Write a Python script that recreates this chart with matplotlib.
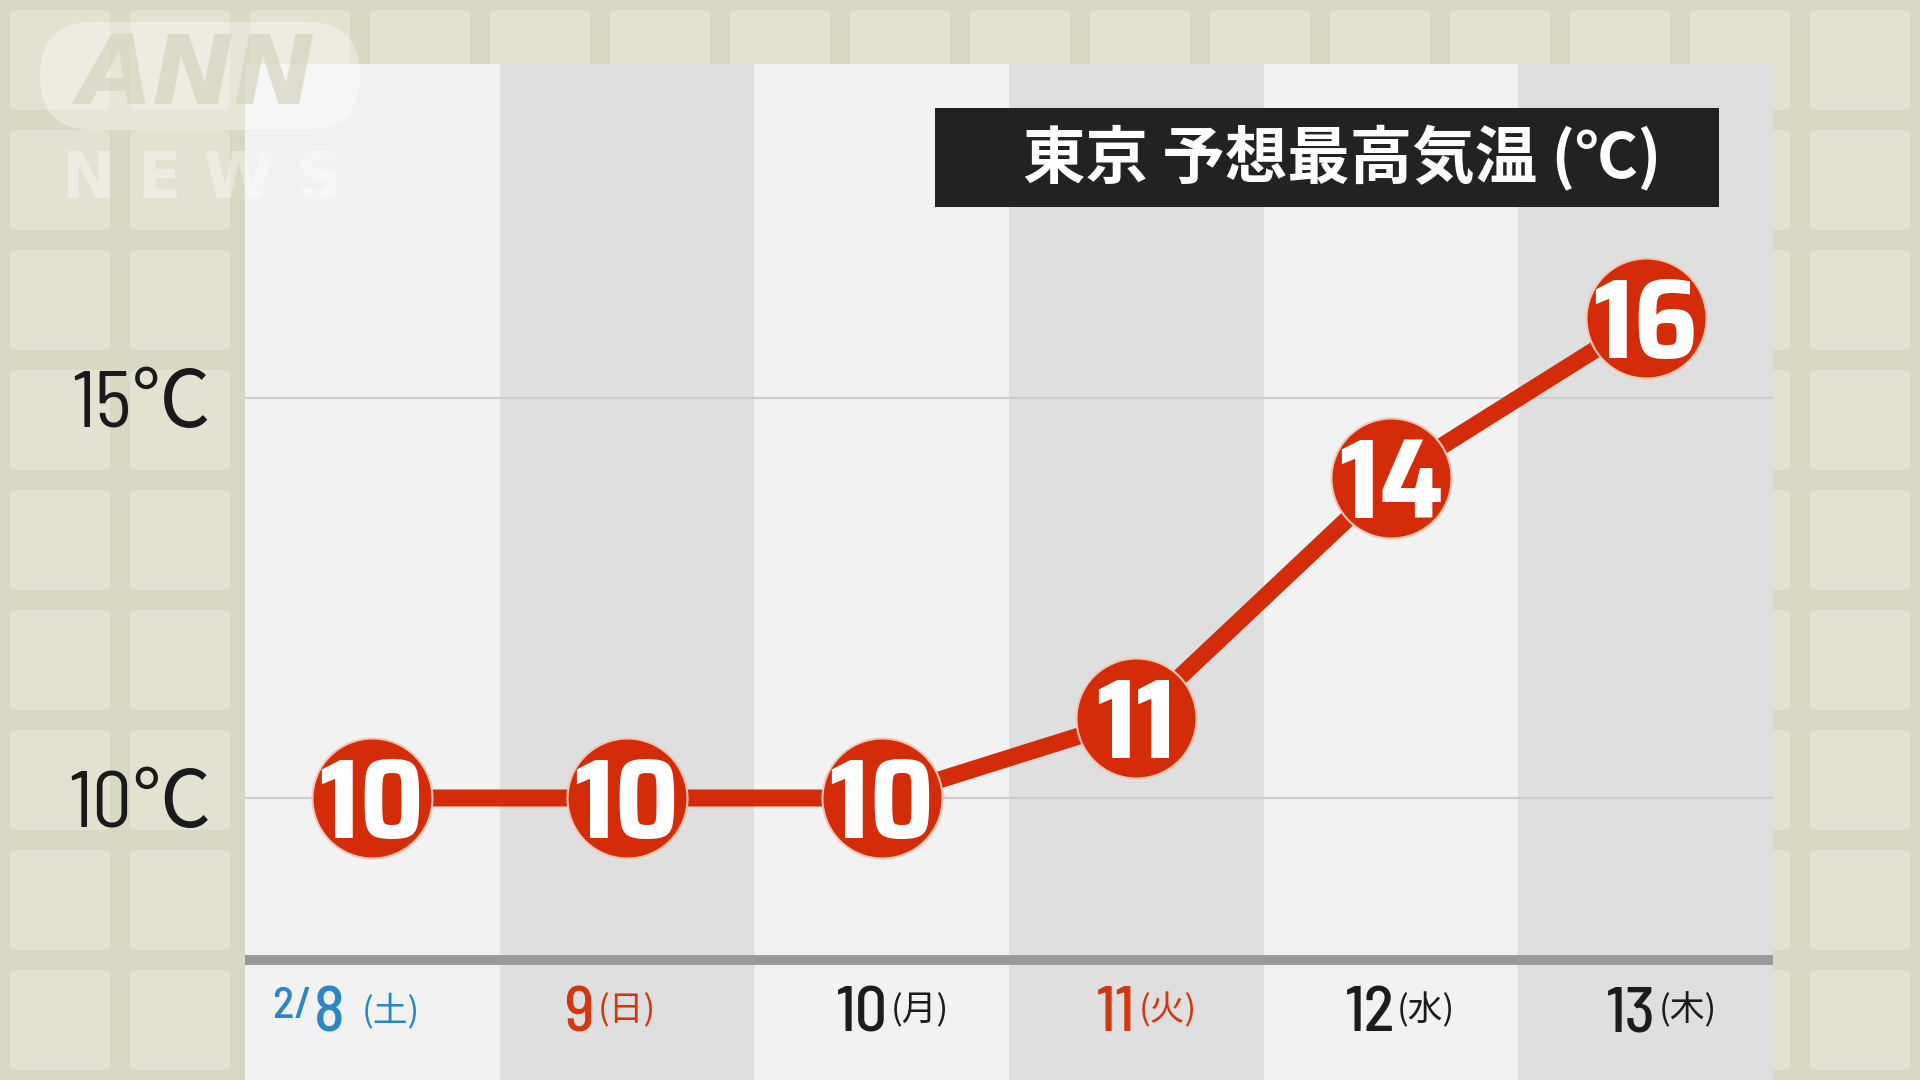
import matplotlib.pyplot as plt
from matplotlib.patches import FancyBboxPatch, Rectangle

# data
days = ["2/8", "9", "10", "11", "12", "13"]
weekdays = ["土", "日", "月", "火", "水", "木"]
day_colors = ["#2a86c6", "#d2380f", "#1c1c1c", "#d2380f", "#1c1c1c", "#1c1c1c"]
temps = [10, 10, 10, 11, 14, 16]
y_ticks = [10, 15]
title = "東京 予想最高気温 (℃)"

RED = "#d42c08"
JP_FONT = ["Noto Sans CJK JP", "DejaVu Sans"]
BADGE_FONT = ["Saira SemiCondensed", "Saira Condensed", "Barlow Semi Condensed", "DejaVu Sans"]
AXIS_FONT = ["Barlow Semi Condensed", "Barlow Condensed", "Roboto Condensed"] + JP_FONT
plt.rcParams["font.family"] = JP_FONT

W, H = 1920, 1080
PT = 72 / 100  # px -> pt at dpi 100

fig = plt.figure(figsize=(19.2, 10.8), dpi=100)
fig.patch.set_facecolor("#d9d9c3")

# tiled background
bg = fig.add_axes([0, 0, 1, 1])
bg.set_xlim(0, W)
bg.set_ylim(H, 0)
bg.axis("off")
for cx in range(10, W, 120):
    for cy in range(10, H, 120):
        bg.add_patch(FancyBboxPatch((cx + 6, cy + 6), 88, 88, boxstyle="round,pad=6",
                                    fc="#e2e2d1", ec="none"))

# chart panel
left, right, top = 245, 1773, 64
y10_px, y15_px = 798, 398
deg_px = (y10_px - y15_px) / 5


def py(p):
    # pixel row -> temperature units
    return 10 - (p - y10_px) / deg_px


ax = fig.add_axes([left / W, 0, (right - left) / W, (H - top) / H])
ax.set_xlim(-0.5, len(days) - 0.5)
ax.set_ylim(py(H), py(top))
ax.axis("off")

x = list(range(len(days)))
for i in x:
    ax.axvspan(i - 0.5, i + 0.5, color="#f2f2f2" if i % 2 == 0 else "#dfdfdf", zorder=0, lw=0)
for t in y_ticks:
    ax.axhline(t, color="#cdcdcd", lw=1.6, zorder=1)
    ax.annotate(f"{t}℃", xy=(-0.5, t), xytext=(-34 * PT, -0.36 * 57), textcoords="offset points",
                ha="right", va="baseline", fontsize=57, color="#1a1a1a",
                family=AXIS_FONT, annotation_clip=False)

ax.axhline(py(960), color="#999999", lw=10 * PT, zorder=1)

ax.plot(x, temps, color=RED, lw=17 * PT, zorder=3)
ax.scatter(x, temps, s=(120 * PT) ** 2, c=RED, edgecolors="#f5c6b4", linewidths=1.5, zorder=4)
for i, t in zip(x, temps):
    ax.annotate(str(t), xy=(i, t), xytext=(0, -0.35 * 82), textcoords="offset points",
                ha="center", va="baseline", fontsize=82, fontweight="bold",
                color="white", family=BADGE_FONT, zorder=5)

# x labels: date number + (weekday)
num_dx = [-28, -33, 6, -1, 4, 10]
wd_dx = [-11, -29, 9, 2, 6, 13]
for i, (d, wd, c) in enumerate(zip(days, weekdays, day_colors)):
    num = d.split("/")[-1]
    ax.annotate(num, xy=(i, py(1031)), xytext=(num_dx[i] * PT, 0), textcoords="offset points",
                ha="right", va="baseline", fontsize=46, color=c, weight=500, family=AXIS_FONT)
    ax.annotate(f"({wd})", xy=(i, py(1011)), xytext=(wd_dx[i] * PT, 0), textcoords="offset points",
                ha="left", va="center", fontsize=25, color=c)
    if "/" in d:
        ax.annotate(d.split("/")[0] + "/", xy=(i, py(1018)), xytext=((num_dx[i] - 32) * PT, 0),
                    textcoords="offset points", ha="right", va="baseline", fontsize=32,
                    color=c, weight=500, family=AXIS_FONT)

# overlay: title box and logo
ov = fig.add_axes([0, 0, 1, 1])
ov.set_xlim(0, W)
ov.set_ylim(H, 0)
ov.axis("off")
ov.patch.set_alpha(0)
ov.add_patch(Rectangle((935, 108), 784, 99, fc="#222222", ec="none"))
ov.text(1342, 158, title, ha="center", va="center", color="white", fontsize=45, fontweight="bold")

ov.add_patch(FancyBboxPatch((40, 22), 320, 108, boxstyle="round,pad=0,rounding_size=54",
                            fc="white", ec="none", alpha=0.35))
ov.text(196, 78, "ANN", ha="center", va="center", fontsize=70, fontweight="bold",
        style="italic", color="#d4d4bd", alpha=0.7, family="DejaVu Sans")
ov.text(202, 180, "N E W S", ha="center", va="center", fontsize=46, fontweight="bold",
        color="white", alpha=0.35, family="DejaVu Sans")

fig.savefig("out.png", dpi=100)
